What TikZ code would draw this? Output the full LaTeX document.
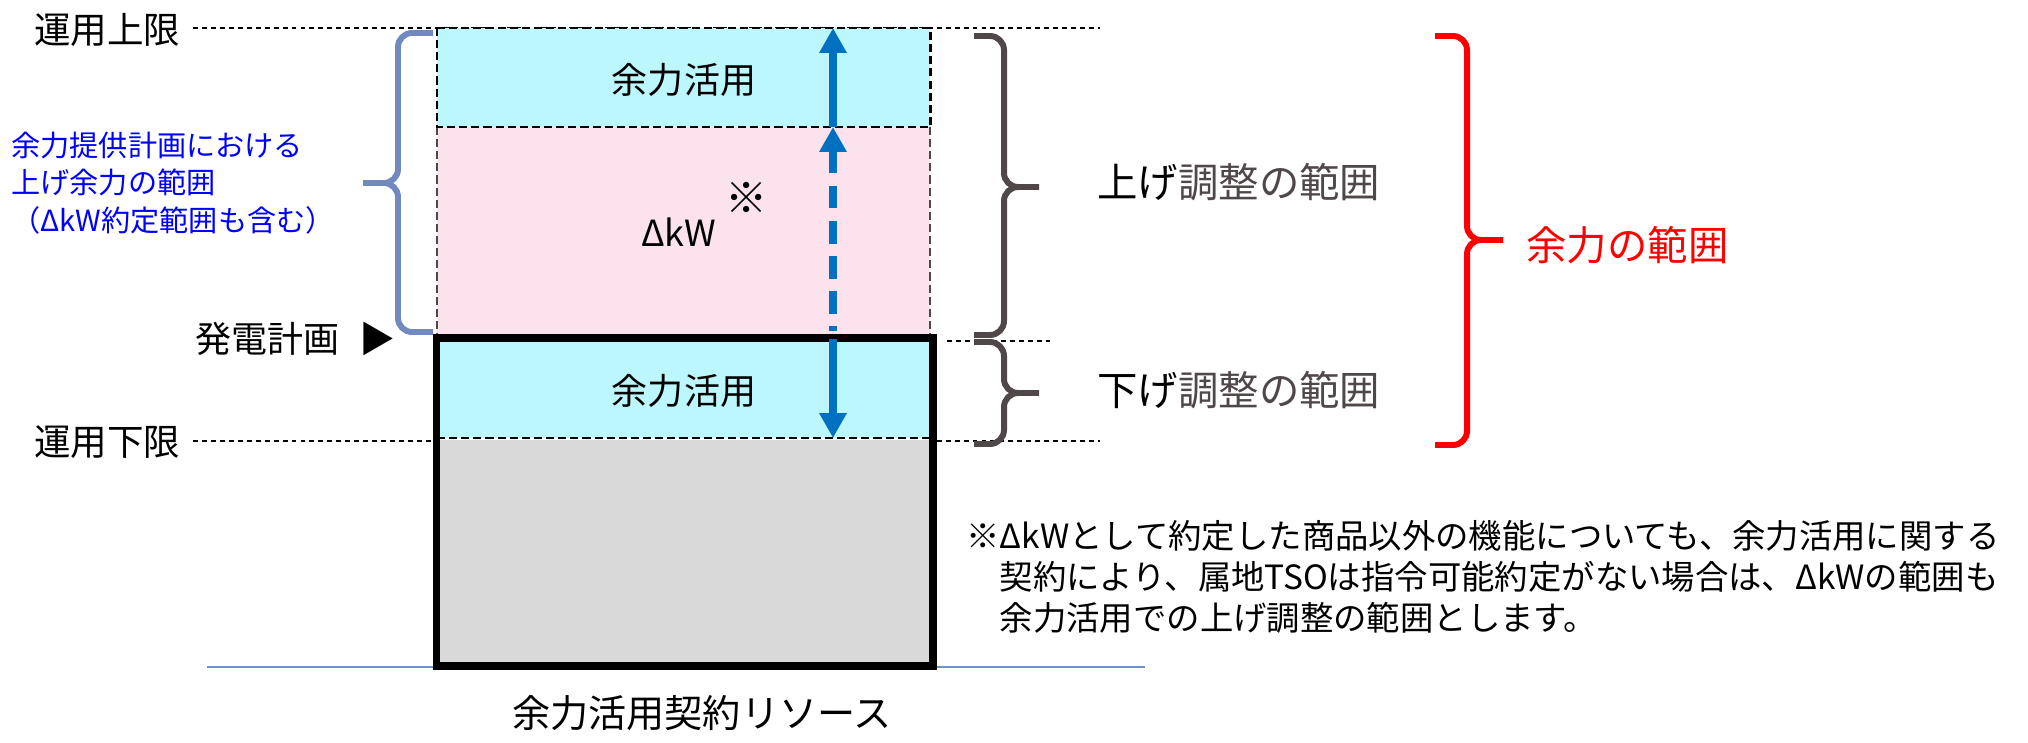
\documentclass[tikz,border=0pt]{standalone}
\usepackage{fontspec}
\setmainfont{Noto Sans CJK JP}
\usepackage{xcolor}
\usepackage{tikz}
\usetikzlibrary{arrows.meta,positioning}
\definecolor{cCyan}{RGB}{187,247,252}
\definecolor{cPink}{RGB}{251,226,236}
\definecolor{cGrey}{RGB}{217,217,217}
\definecolor{cArrow}{RGB}{0,112,192}
\definecolor{cSlate}{RGB}{113,137,190}
\definecolor{cBrown}{RGB}{80,72,72}
\definecolor{cRed}{RGB}{255,0,0}
\definecolor{cBlue}{RGB}{0,0,255}
\definecolor{cBase}{RGB}{112,146,200}

\begin{document}
\begin{tikzpicture}[x=0.02cm, y=-0.02cm,
  >={Triangle[width=14.8pt,length=14.2pt]},
  lbl/.style={inner sep=0pt, font=\fontsize{20.5}{25}\selectfont},
  big/.style={inner sep=0pt, anchor=west, font=\fontsize{23}{28}\selectfont},
  limit/.style={line width=0.75pt, dash pattern=on 2.8pt off 2.3pt},
  band/.style={line width=1.7pt, dash pattern=on 4.6pt off 2.3pt},
  brace/.style={line width=3.4pt, rounded corners=8pt},
  updown/.style={draw=cArrow, line width=5pt},
]
  \useasboundingbox (0,0) rectangle (2028,743);

  % operating limits
  \node[lbl, anchor=west, font=\fontsize{20.8}{25}\selectfont] (maxlbl) at (34,30) {運用上限};
  \node[lbl, anchor=west, font=\fontsize{20.8}{25}\selectfont] (minlbl) at (34,442) {運用下限};
  \draw[limit] (193,28) -- (1100,28);
  \draw[limit] (193,441) -- (1100,441);
  \draw[limit] (947,341) -- (1053,341);
  \draw[draw=cBase, line width=1.1pt] (207,667) -- (1145,667);

  % resource column
  \fill[cGrey] (437,440) rectangle (933,666);
  \filldraw[fill=cCyan, band] (438,340) rectangle (930,438);
  \fill[cPink] (437,127) rectangle (930,337);
  \draw[cBrown, line width=0.9pt, dash pattern=on 4.6pt off 2.3pt] (437,127) -- (437,337) (930,127) -- (930,337);
  \filldraw[fill=cCyan, band] (437,28) rectangle (930,127);
  \draw[line width=4pt] (436.5,338) rectangle (933,666);

  \node[lbl] (upuse) at (684,80) {余力活用};
  \node[lbl] (lowuse) at (684,391) {余力活用};
  \node[lbl, anchor=base west] (dkw) at (641,247) {ΔkW\kern5pt\raisebox{19pt}{\fontsize{24}{28}\selectfont ※}};
  \node[lbl, anchor=east] (plan) at (396,339) {発電計画\hspace{0.55em}▶};

  % up / down arrows
  \coordinate (ceil) at (833,28);
  \coordinate (edge) at (833,127);
  \coordinate (gap) at (833,331);
  \coordinate (pt) at (833,339);
  \coordinate (floor) at (833,438);
  \draw[updown, ->] (edge) -- (ceil);
  \draw[updown, <-, dash pattern=on 13pt off 7pt] (edge) -- (gap);
  \draw[updown, ->] (pt) -- (floor);

  % braces
  \draw[brace, cSlate] (433,33) -- (398,33) -- (398,183) -- (363,183)
    (363,183) -- (398,183) -- (398,332) -- (433,332);
  \draw[brace, cBrown] (974,36) -- (1004,36) -- (1004,187) -- (1039,187)
    (1039,187) -- (1004,187) -- (1004,335) -- (974,335);
  \draw[brace, cBrown] (974,342) -- (1004,342) -- (1004,393) -- (1039,393)
    (1039,393) -- (1004,393) -- (1004,444) -- (974,444);
  \draw[brace, cRed, line width=3.4pt] (1435,36) -- (1467,36) -- (1467,240) -- (1503,240)
    (1503,240) -- (1467,240) -- (1467,445) -- (1435,445);

  \node[inner sep=0pt, anchor=west, align=left, text=cBlue, font=\fontsize{16.6}{21.3}\selectfont] (offer) at (11,183)
    {余力提供計画における\\上げ余力の範囲\\（ΔkW約定範囲も含む）};
  \node[big, text=cBrown] (uprange) at (1097,182) {\textcolor{black}{上げ}調整の範囲};
  \node[big, text=cBrown] (downrange) at (1097,390) {\textcolor{black}{下げ}調整の範囲};
  \node[big, text=cRed] (surplus) at (1526,245) {余力の範囲};

  \node[inner sep=0pt, anchor=north west, align=left, font=\fontsize{19}{23.3}\selectfont] (note) at (966,520)
    {※ΔkWとして約定した商品以外の機能についても、余力活用に関する\\　契約により、属地TSOは指令可能約定がない場合は、ΔkWの範囲も\\　余力活用での上げ調整の範囲とします。};
  \node[lbl, font=\fontsize{21.7}{26}\selectfont] (res) at (702,713) {余力活用契約リソース};
\end{tikzpicture}
\end{document}
